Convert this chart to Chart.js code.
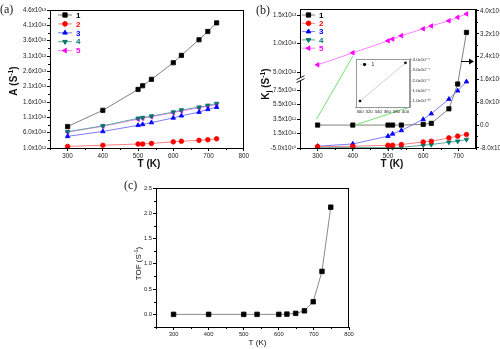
<!DOCTYPE html>
<html lang="en">
<head>
<meta charset="utf-8" />
<title>A, Kj and TOF against T</title>
<style>
body { margin: 0; background: #fff; }
#wrap { position: relative; width: 500px; height: 349px; overflow: hidden; }
#wrap canvas { position: absolute; }
.tag { position: absolute; font-family: "Liberation Serif", "DejaVu Serif", serif; font-size: 12px; line-height: 12px; color: #222; }
</style>
</head>
<body>
<div id="wrap">
  <canvas id="chartA" width="250" height="170" style="left:0;top:0"></canvas>
  <canvas id="chartB" width="250" height="170" style="left:250px;top:0"></canvas>
  <canvas id="chartC" width="256" height="179" style="left:100px;top:170px"></canvas>
  <canvas id="inset"></canvas>
  <div class="tag" style="left:0;top:3px">(a)</div>
  <div class="tag" style="left:256px;top:4px">(b)</div>
  <div class="tag" style="left:124px;top:179px">(c)</div>
</div>
<script src="https://cdn.jsdelivr.net/npm/chart.js"></script>
<script>
// temperatures (K)
const temps = [300, 400, 500, 513, 538, 600, 623, 673, 698, 723];
const tempsTof = [300, 400, 500, 538, 600, 623, 648, 673, 698, 723, 748];
const seriesNames = ['1', '2', '3', '4', '5'];

// (a) A (S-1)
const a1 = [8.0e12, 13.3e12, 20.1e12, 21.3e12, 23.4e12, 28.8e12, 31.2e12, 36.3e12, 39.0e12, 41.8e12];
const a2 = [1.5e12, 1.9e12, 2.3e12, 2.3e12, 2.5e12, 3.0e12, 3.2e12, 3.5e12, 3.7e12, 4.0e12];
const a3 = [4.8e12, 6.4e12, 8.4e12, 8.7e12, 9.3e12, 10.8e12, 11.5e12, 12.7e12, 13.6e12, 14.3e12];
const a4 = [6.3e12, 8.2e12, 10.7e12, 10.9e12, 11.4e12, 12.7e12, 13.4e12, 14.3e12, 14.9e12, 15.5e12];
const a5 = [6.2e12, 8.1e12, 10.4e12, 10.7e12, 11.2e12, 12.5e12, 13.1e12, 14.1e12, 14.6e12, 15.2e12];

// (b) Kj (S-1), series 1 goes on the right axis
const k1 = [1e-10, 3.7e-4, 0.01, 0.02, 0.05, 250, 600, 5700, 14400, 32500];
const k2 = [-3.0e10, -2.6e10, -1.2e10, -1.2e10, -0.2e10, 3.4e10, 4.4e10, 9.0e10, 11.4e10, 13.7e10];
const k3 = [-2.5e10, 0.6e10, 11.4e10, 14.6e10, 19.3e10, 34.7e10, 42.6e10, 62.7e10, 74.3e10, 86.9e10];
const k4 = [-4.0e10, -4.5e10, -4.5e10, -4.5e10, -4.0e10, -1.2e10, -0.2e10, 3.0e10, 4.4e10, 6.7e10];
const k5 = [6.3e12, 8.4e12, 10.5e12, 10.8e12, 11.4e12, 12.6e12, 13.1e12, 14.0e12, 14.6e12, 15.2e12];

// inset of (b): series 1 from 300 to 400 K
const insetT = [300, 400];
const insetK1 = [1e-10, 3.7e-4];

// (c) TOF (S-1)
const tof = [0, 0, 0, 0, 0, 0.005, 0.02, 0.07, 0.25, 0.85, 2.12];

// tick values
const aTicksX = [300, 400, 500, 600, 700, 800];
const aTicksY = [1e12, 6e12, 1.1e13, 1.6e13, 2.1e13, 2.6e13, 3.1e13, 3.6e13, 4.1e13, 4.6e13];
const bTicksX = [300, 400, 500, 600, 700];
const bTicksTop = [5e12, 1e13, 1.5e13];
const bTicksBot = [-5e10, 1.5e11, 3.5e11, 5.5e11, 7.5e11];
const bTicksRight = [-8e3, 0, 8e3, 1.6e4, 2.4e4, 3.2e4, 4e4];
const insetTicksX = [300, 320, 340, 360, 380, 400];
const insetTicksY = [1e-10, 1e-4, 2e-4, 3e-4, 4e-4];
const cTicksX = [300, 400, 500, 600, 700, 800];
const cTicksY = [0, 0.5, 1, 1.5, 2, 2.5];

// looks
const colors = ['#000000', '#ff0000', '#0000ff', '#00786a', '#ff00ff'];
const lineColors = ['#808080', '#ff8080', '#7c7cff', '#5fa99e', '#ff80ff'];
const markers = [
  {style: 'rect', rot: 0, r: 3.0},
  {style: 'circle', rot: 0, r: 2.3},
  {style: 'triangle', rot: 0, r: 2.6},
  {style: 'triangle', rot: 180, r: 2.6},
  {style: 'triangle', rot: -90, r: 2.6}
];
const FONT = '"Liberation Sans", Arial, "DejaVu Sans", sans-serif';
Chart.defaults.font.family = FONT;
Chart.defaults.color = '#222';

const SUP = {'0':'⁰','1':'¹','2':'²','3':'³','4':'⁴','5':'⁵','6':'⁶','7':'⁷','8':'⁸','9':'⁹','-':'⁻'};
function sci(v) {
  if (v === 0) return '0.0';
  const e = Math.floor(Math.log10(Math.abs(v)) + 1e-9);
  const m = v / Math.pow(10, e);
  return m.toFixed(1) + 'x10' + String(e).split('').map(c => SUP[c]).join('');
}

function series(xs, ys, i, axis) {
  return {
    label: seriesNames[i],
    data: xs.map((x, j) => ({x: x, y: ys[j]})),
    yAxisID: axis,
    borderColor: lineColors[i],
    borderWidth: 1,
    pointStyle: markers[i].style,
    pointRotation: markers[i].rot,
    pointRadius: markers[i].r,
    pointBackgroundColor: colors[i],
    pointBorderColor: colors[i],
    pointBorderWidth: 0.8,
    tension: 0,
    clip: 8
  };
}

function axis(opts, tickVals, size, fontSize, fmt, tickLen, col) {
  col = col || '#000';
  return Object.assign({
    type: 'linear',
    grid: {drawOnChartArea: false, drawTicks: true, tickLength: tickLen || 3, tickColor: col},
    border: {display: true, color: col, width: 1},
    ticks: {font: {size: fontSize}, color: '#222', padding: 1, autoSkip: false, maxRotation: 0, minRotation: 0, callback: fmt},
    afterBuildTicks: s => { s.ticks = tickVals.map(v => ({value: v})); },
    afterFit: s => { if (s.isHorizontal()) s.height = size; else s.width = size; }
  }, opts);
}

// ---- plugins ----
function framePlugin(color) {
  return {
    id: 'frame',
    afterDatasetsDraw(chart) {
      const {ctx, chartArea: a} = chart;
      const l = Math.round(a.left), t = Math.round(a.top), r = Math.round(a.right), b = Math.round(a.bottom);
      ctx.save();
      ctx.strokeStyle = color;
      ctx.lineWidth = 1;
      ctx.strokeRect(l + 0.5, t + 0.5, r - l - 1, b - t);
      ctx.restore();
    }
  };
}

function minorPlugin(steps, len) {
  return {
    id: 'minorTicks',
    afterDraw(chart) {
      const ctx = chart.ctx;
      ctx.save();
      ctx.strokeStyle = '#000';
      ctx.lineWidth = 1;
      ctx.beginPath();
      Object.keys(steps).forEach(id => {
        const s = chart.scales[id];
        const step = steps[id];
        const first = s.ticks[0].value;
        let v = first - Math.floor((first - s.min) / step + 1e-9) * step;
        for (; v <= s.max + Math.abs(step) * 1e-6; v += step) {
          if (s.ticks.some(t => Math.abs(t.value - v) < step * 1e-3)) continue;
          const p = Math.round(s.getPixelForValue(v)) + 0.5;
          if (s.isHorizontal()) { ctx.moveTo(p, s.top); ctx.lineTo(p, s.top + len); }
          else if (s.position === 'left') { ctx.moveTo(s.right, p); ctx.lineTo(s.right - len, p); }
          else { ctx.moveTo(s.left, p); ctx.lineTo(s.left + len, p); }
        }
      });
      ctx.stroke();
      ctx.restore();
    }
  };
}

function legendPlugin(cfg) {
  return {
    id: 'innerLegend',
    afterDraw(chart) {
      const {ctx, chartArea: a} = chart;
      ctx.save();
      chart.data.datasets.forEach((ds, i) => {
        const y = a.top + cfg.top + i * cfg.row;
        const x0 = a.left + cfg.left;
        ctx.strokeStyle = ds.borderColor;
        ctx.lineWidth = 1;
        ctx.setLineDash(cfg.dash || []);
        ctx.beginPath(); ctx.moveTo(x0, y); ctx.lineTo(x0 + cfg.len, y); ctx.stroke();
        ctx.setLineDash([]);
        ctx.fillStyle = ds.pointBackgroundColor;
        ctx.strokeStyle = ds.pointBorderColor;
        Chart.helpers.drawPoint(ctx, {pointStyle: ds.pointStyle, rotation: ds.pointRotation || 0,
          radius: cfg.radius || ds.pointRadius, borderWidth: 0.8}, x0 + cfg.len / 2, y);
        ctx.fillStyle = cfg.textColor || ds.pointBackgroundColor;
        ctx.font = cfg.font;
        ctx.textBaseline = 'middle';
        ctx.textAlign = 'left';
        ctx.fillText(ds.label, x0 + cfg.len + cfg.gap, y + 0.5);
      });
      ctx.restore();
    }
  };
}

// axis titles with super/subscripts: parts = [text, shift] (1 up, -1 down)
function titlesPlugin(items) {
  return {
    id: 'titles',
    afterDraw(chart) {
      const ctx = chart.ctx;
      items.forEach(it => {
        ctx.save();
        ctx.translate(it.x, it.y);
        if (it.rot) ctx.rotate(it.rot);
        let total = 0;
        const parts = it.parts.map(([t, shift]) => {
          const s = shift ? it.size * 0.68 : it.size;
          ctx.font = it.weight + ' ' + s + 'px ' + FONT;
          const w = ctx.measureText(t).width;
          total += w;
          return {t, s, w, shift};
        });
        let x = -total / 2;
        ctx.fillStyle = '#111';
        ctx.textAlign = 'left';
        ctx.textBaseline = 'alphabetic';
        parts.forEach(p => {
          ctx.font = it.weight + ' ' + p.s + 'px ' + FONT;
          const dy = it.size * 0.36 + (p.shift > 0 ? -it.size * 0.4 : p.shift < 0 ? it.size * 0.22 : 0);
          ctx.fillText(p.t, x, dy);
          x += p.w;
        });
        ctx.restore();
      });
    }
  };
}

const common = {
  responsive: false,
  animation: false,
  devicePixelRatio: 1,
  events: [],
  plugins: {legend: {display: false}, tooltip: {enabled: false}}
};

// ---- (a) ----
new Chart(document.getElementById('chartA'), {
  type: 'line',
  data: {datasets: [
    series(temps, a1, 0, 'y'), series(temps, a2, 1, 'y'), series(temps, a3, 2, 'y'),
    series(temps, a4, 3, 'y'), series(temps, a5, 4, 'y')
  ]},
  options: Object.assign({}, common, {
    layout: {padding: {top: 10, right: 2, left: 0, bottom: 0}},
    scales: {
      x: axis({position: 'bottom', min: 250, max: 800}, aTicksX, 22, 6.3, v => String(v)),
      y: axis({position: 'left', min: 1e12, max: 4.6e13}, aTicksY, 50, 6.3, v => sci(v))
    }
  }),
  plugins: [
    framePlugin('#000'),
    minorPlugin({x: 50, y: 2.5e12}, 2),
    legendPlugin({left: 8, top: 5, row: 8.9, len: 14, gap: 4, font: 'bold 8px ' + FONT}),
    titlesPlugin([
      {parts: [['T (K)', 0]], x: 149, y: 163.5, size: 10, weight: 'bold'},
      {parts: [['A (S', 0], ['-1', 1], [')', 0]], x: 13, y: 81, rot: -Math.PI / 2, size: 10, weight: 'bold'}
    ])
  ]
});

// ---- (b) ----
const B_LEFT = 250, B_TOP = 0;
const INSET = {left: 353, top: 56, right: 410, bottom: 107};
const insetBoxB = {left: INSET.left - B_LEFT, top: INSET.top - B_TOP, right: INSET.right - B_LEFT, bottom: INSET.bottom - B_TOP};
const ARROW_AT = 22300;

const breakPlugin = {
  id: 'breakMark',
  afterDraw(chart) {
    const ctx = chart.ctx;
    const x = Math.round(chart.chartArea.left) + 0.5;
    const y = chart.scales.yBot.top;
    ctx.save();
    ctx.fillStyle = '#fff';
    ctx.beginPath();
    ctx.moveTo(x - 4, y + 1); ctx.lineTo(x + 4, y - 3); ctx.lineTo(x + 4, y); ctx.lineTo(x - 4, y + 4);
    ctx.closePath(); ctx.fill();
    ctx.strokeStyle = '#000';
    ctx.lineWidth = 0.9;
    ctx.beginPath();
    ctx.moveTo(x - 4, y + 1); ctx.lineTo(x + 4, y - 3);
    ctx.moveTo(x - 4, y + 4); ctx.lineTo(x + 4, y);
    ctx.stroke();
    ctx.restore();
  }
};

const bExtras = {
  id: 'bExtras',
  afterDatasetsDraw(chart) {
    const {ctx, chartArea: a, scales: {x, yR}} = chart;
    ctx.save();
    ctx.strokeStyle = '#74dd74';
    ctx.lineWidth = 1;
    ctx.beginPath();
    ctx.moveTo(insetBoxB.left, insetBoxB.top);
    ctx.lineTo(x.getPixelForValue(insetT[0]) - 1, yR.getPixelForValue(k1[0]) - 6);
    ctx.moveTo(x.getPixelForValue(insetT[1]) + 2, yR.getPixelForValue(k1[1]));
    ctx.lineTo(insetBoxB.right, insetBoxB.bottom);
    ctx.stroke();
    // arrow: series 1 is read on the right axis
    const ay = Math.round(yR.getPixelForValue(ARROW_AT)) + 0.5;
    ctx.strokeStyle = '#000';
    ctx.fillStyle = '#000';
    ctx.beginPath(); ctx.moveTo(a.right - 15, ay); ctx.lineTo(a.right - 6, ay); ctx.stroke();
    ctx.beginPath(); ctx.moveTo(a.right - 2, ay); ctx.lineTo(a.right - 7, ay - 3); ctx.lineTo(a.right - 7, ay + 3);
    ctx.closePath(); ctx.fill();
    ctx.restore();
  }
};

new Chart(document.getElementById('chartB'), {
  type: 'line',
  data: {datasets: [
    series(temps, k1, 0, 'yR'), series(temps, k2, 1, 'yBot'), series(temps, k3, 2, 'yBot'),
    series(temps, k4, 3, 'yBot'), series(temps, k5, 4, 'yTop')
  ]},
  options: Object.assign({}, common, {
    layout: {padding: {top: 9, right: 0, left: 0, bottom: 0}},
    scales: {
      x: axis({position: 'bottom', min: 250, max: 750}, bTicksX, 22, 6.3, v => String(v)),
      yBot: axis({position: 'left', stack: 'kj', stackWeight: 68.7, min: -5e10, max: 9.11e11}, bTicksBot, 50, 6.3, v => sci(v)),
      yTop: axis({position: 'left', stack: 'kj', stackWeight: 69, min: 3.89e12, max: 1.606e13}, bTicksTop, 50, 6.3, v => sci(v)),
      yR: axis({position: 'right', min: -8.04e3, max: 4.07e4}, bTicksRight, 24, 6.3, v => sci(v))
    }
  }),
  plugins: [
    framePlugin('#000'),
    minorPlugin({x: 50, yR: 4e3}, 2),
    breakPlugin,
    bExtras,
    legendPlugin({left: 2, top: 6, row: 8.3, len: 13, gap: 4, font: 'bold 8px ' + FONT}),
    titlesPlugin([
      {parts: [['T (K)', 0]], x: 142, y: 163.5, size: 10, weight: 'bold'},
      {parts: [['K', 0], ['j', -1], [' (S', 0], ['-1', 1], [')', 0]], x: 15, y: 84, rot: -Math.PI / 2, size: 10, weight: 'bold'}
    ])
  ]
});

// ---- inset of (b) ----
const insetCanvas = document.getElementById('inset');
const IN_PAD = 2, IN_RIGHT = 21, IN_BOTTOM = 11;
insetCanvas.width = INSET.right - INSET.left + IN_PAD + IN_RIGHT;
insetCanvas.height = INSET.bottom - INSET.top + IN_PAD + IN_BOTTOM;
insetCanvas.style.left = (INSET.left - IN_PAD) + 'px';
insetCanvas.style.top = (INSET.top - IN_PAD) + 'px';

const whiteArea = {
  id: 'whiteArea',
  beforeDraw(chart) {
    const {ctx, chartArea: a} = chart;
    ctx.save(); ctx.fillStyle = '#fff'; ctx.fillRect(a.left, a.top, a.width, a.height); ctx.restore();
  }
};

new Chart(insetCanvas, {
  type: 'line',
  data: {datasets: [{
    label: seriesNames[0],
    data: insetT.map((t, i) => ({x: t, y: insetK1[i]})),
    yAxisID: 'y',
    borderColor: '#c4c4c4',
    borderWidth: 0.8,
    pointStyle: 'rect',
    pointRadius: 1.3,
    pointBackgroundColor: '#000',
    pointBorderColor: '#000',
    pointBorderWidth: 0.5,
    clip: 4
  }]},
  options: Object.assign({}, common, {
    layout: {padding: {top: IN_PAD, left: IN_PAD, right: 0, bottom: 0}},
    scales: {
      x: axis({position: 'bottom', min: 290, max: 410}, insetTicksX, IN_BOTTOM, 4.4, v => String(v), 1.5, '#999'),
      y: axis({position: 'right', min: -0.58e-4, max: 4.12e-4}, insetTicksY, IN_RIGHT, 4.4, v => sci(v), 1.5, '#999')
    }
  }),
  plugins: [
    whiteArea,
    framePlugin('#999'),
    legendPlugin({left: 5, top: 6, row: 6, len: 8, gap: 3, radius: 1.3, dash: [1.5, 1], textColor: '#222', font: '5px ' + FONT})
  ]
});

// ---- (c) ----
new Chart(document.getElementById('chartC'), {
  type: 'line',
  data: {datasets: [{
    label: 'TOF',
    data: tempsTof.map((t, i) => ({x: t, y: tof[i]})),
    borderColor: '#8a8a8a',
    borderWidth: 1,
    pointStyle: 'rect',
    pointRadius: 3.2,
    pointBackgroundColor: '#000',
    pointBorderColor: '#000',
    pointBorderWidth: 0.8,
    tension: 0,
    clip: 8
  }]},
  options: Object.assign({}, common, {
    layout: {padding: {top: 18, right: 7, left: 30, bottom: 0}},
    scales: {
      x: axis({position: 'bottom', min: 250, max: 800}, cTicksX, 22, 5.8, v => String(v)),
      y: axis({position: 'left', min: -0.25, max: 2.5}, cTicksY, 26, 5.8, v => v.toFixed(1))
    }
  }),
  plugins: [
    framePlugin('#000'),
    minorPlugin({x: 50, y: 0.25}, 2),
    titlesPlugin([
      {parts: [['T (K)', 0]], x: 157.5, y: 172.5, size: 8, weight: 'normal'},
      {parts: [['TOF (S', 0], ['-1', 1], [')', 0]], x: 38, y: 93.5, rot: -Math.PI / 2, size: 8, weight: 'normal'}
    ])
  ]
});
</script>
</body>
</html>
